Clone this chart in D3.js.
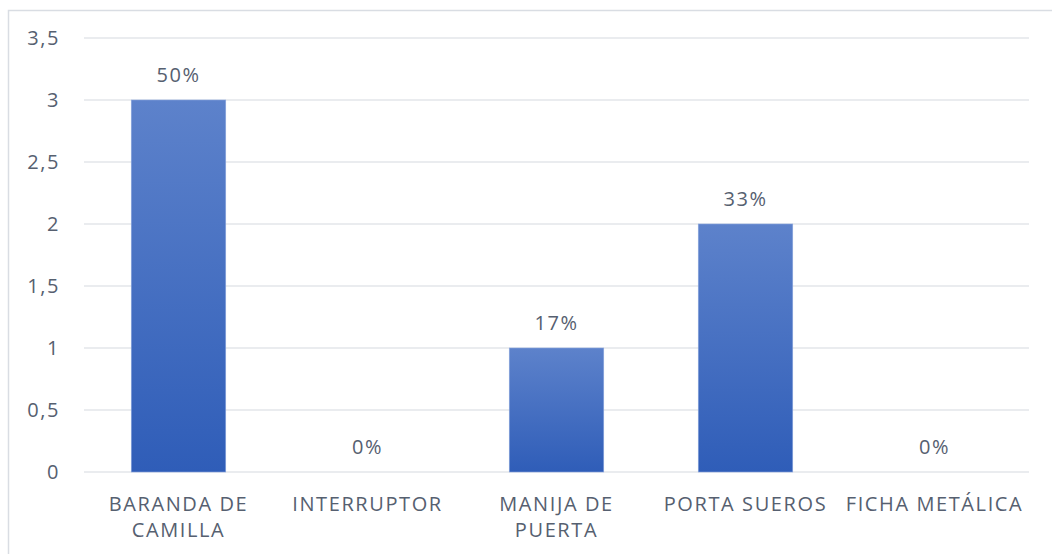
<!DOCTYPE html>
<html>
<head>
<meta charset="utf-8">
<script src="https://cdn.jsdelivr.net/npm/d3@7"></script>
<style>
  body { margin: 0; background: #fff; }
  svg { display: block; font-family: "Open Sans", sans-serif; }
</style>
</head>
<body>
<div id="chart"></div>
<script>
const categories = [["BARANDA DE", "CAMILLA"], ["INTERRUPTOR"], ["MANIJA DE", "PUERTA"], ["PORTA SUEROS"], ["FICHA METÁLICA"]];
const values = [3, 0, 1, 2, 0];
const percentLabels = ["50%", "0%", "17%", "33%", "0%"];
const yTicks = [0, 0.5, 1, 1.5, 2, 2.5, 3, 3.5];

const width = 1052, height = 554;
const margin = {top: 38, right: 23, bottom: 82, left: 84};
const textColor = "#566070";
const fontSize = "20px";
const spacing = "1.6px";

const svg = d3.select("#chart").append("svg")
    .attr("width", width)
    .attr("height", height);

// chart frame (only top and left edges visible in the crop)
svg.append("rect")
    .attr("x", 8.5).attr("y", 10.5)
    .attr("width", width + 20).attr("height", height + 20)
    .attr("fill", "none").attr("stroke", "#d9dde3").attr("stroke-width", 1.5);

const defs = svg.append("defs");
const grad = defs.append("linearGradient").attr("id", "barGrad")
    .attr("x1", 0).attr("y1", 0).attr("x2", 0).attr("y2", 1);
grad.append("stop").attr("offset", "0%").attr("stop-color", "#5d82cb");
grad.append("stop").attr("offset", "100%").attr("stop-color", "#2f5db8");

const x = d3.scaleBand()
    .domain(d3.range(categories.length))
    .range([margin.left, width - margin.right])
    .paddingInner(0.5).paddingOuter(0.25);

const y = d3.scaleLinear().domain([0, 3.5]).range([height - margin.bottom, margin.top]);

// gridlines
svg.append("g").selectAll("line").data(yTicks).join("line")
    .attr("x1", margin.left).attr("x2", width - margin.right)
    .attr("y1", d => y(d)).attr("y2", d => y(d))
    .attr("stroke", "#e3e6ea").attr("stroke-width", 1.5);

// y axis labels
const fmt = d => String(d).replace(".", ",");
const yAxis = svg.append("g")
    .attr("transform", `translate(${margin.left - 24},0)`)
    .call(d3.axisLeft(y).tickValues(yTicks).tickFormat(fmt).tickSize(0).tickPadding(0));
yAxis.select(".domain").remove();
yAxis.selectAll("text").attr("font-size", fontSize).attr("fill", textColor)
    .attr("letter-spacing", spacing)
    .attr("font-family", "Open Sans, sans-serif");

// bars
svg.append("g").selectAll("rect").data(values).join("rect")
    .attr("x", (d, i) => x(i))
    .attr("y", d => y(d))
    .attr("width", x.bandwidth())
    .attr("height", d => y(0) - y(d))
    .attr("fill", "url(#barGrad)")
    .attr("stroke", "#8aa6dc").attr("stroke-width", 0.6);

// value labels
svg.append("g").selectAll("text").data(values).join("text")
    .attr("x", (d, i) => x(i) + x.bandwidth() / 2)
    .attr("y", d => y(d) - 18)
    .attr("text-anchor", "middle")
    .attr("font-size", fontSize)
    .attr("letter-spacing", spacing)
    .attr("fill", textColor)
    .text((d, i) => percentLabels[i]);

// category labels
const xl = svg.append("g").selectAll("text").data(categories).join("text")
    .attr("x", (d, i) => x(i) + x.bandwidth() / 2)
    .attr("y", height - margin.bottom + 39)
    .attr("text-anchor", "middle")
    .attr("font-size", fontSize)
    .attr("letter-spacing", spacing)
    .attr("fill", textColor);
xl.selectAll("tspan").data(d => d).join("tspan")
    .attr("x", function() { return d3.select(this.parentNode).attr("x"); })
    .attr("dy", (d, j) => j === 0 ? 0 : 26)
    .text(d => d);
</script>
</body>
</html>
